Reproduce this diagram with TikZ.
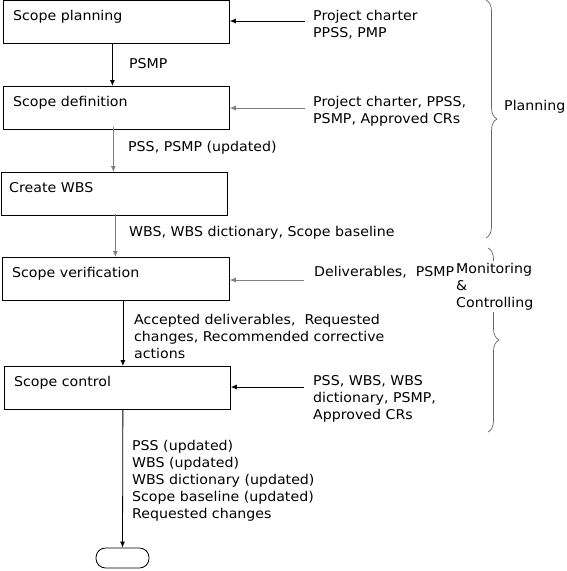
\documentclass[tikz,border=0pt]{standalone}
\usepackage{fontspec}
\setmainfont{DejaVu Sans}[FakeStretch=1.05]
\usetikzlibrary{arrows.meta,decorations.pathreplacing}

\tikzset{
	stepbox/.style={draw, line width=0.8pt, minimum width=226pt, minimum height=43pt, inner sep=0pt, anchor=north west},
	boxlabel/.style={anchor=base west, xshift=10pt, yshift=-20pt, inner sep=0pt},
	txt/.style={anchor=base west, inner sep=0pt, align=left},
	flow/.style={-{Latex[length=6pt,width=5pt]}, line width=0.8pt},
	grayflow/.style={flow, draw=black!50},
	bracket/.style={draw=black!60, line width=0.7pt, decorate, decoration={brace, amplitude=11pt}}
}

\begin{document}
\begin{tikzpicture}[x=1pt,y=-1pt,font=\fontsize{13.5pt}{17pt}\selectfont]
	\useasboundingbox (0,0) rectangle (566,571);
	
	% steps
	\node [stepbox, label={[boxlabel]north west:Scope planning}] (plan) at (3,0) {};
	\node [stepbox, label={[boxlabel]north west:Scope definition}] (defn) at (3,86) {};
	\node [stepbox, label={[boxlabel,xshift=-2pt]north west:Create WBS}] (wbs) at (1,172) {};
	\node [stepbox, minimum width=227pt, label={[boxlabel]north west:Scope verification}] (verif) at (2,257) {};
	\node [stepbox, label={[boxlabel]north west:Scope control}] (ctrl) at (4,366) {};
	\node [draw, line width=0.8pt, rounded corners=9.5pt, minimum width=53pt, minimum height=20pt, inner sep=0pt] (stop) at (122.5,558) {};
	
	% flow down
	\draw [flow] ([xshift=-4pt]plan.south) -- ([xshift=-4pt]plan.south |- defn.north);
	\draw [grayflow] ([xshift=-3pt,yshift=3pt]defn.south) -- ([xshift=-3pt]defn.south |- wbs.north);
	\draw [grayflow] ([xshift=1pt,yshift=2pt]wbs.south) -- ([xshift=1pt]wbs.south |- verif.north);
	\draw [flow] ([xshift=7pt]verif.south) -- ([xshift=7pt]verif.south |- ctrl.north);
	\draw [flow] ([xshift=5.5pt]ctrl.south) -- (stop.north);
	
	% outputs (base = last line)
	\node [txt] (o1) at (129,68) {PSMP};
	\node [txt] (o2) at (128,151.5) {PSS, PSMP (updated)};
	\node [txt] (o3) at (129,236) {WBS, WBS dictionary, Scope baseline};
	\node [txt] (o4) at (134,358) {Accepted deliverables,\ \ Requested\\changes, Recommended corrective\\actions};
	\node [txt] (o5) at (132,518) {PSS (updated)\\WBS (updated)\\WBS dictionary (updated)\\Scope baseline (updated)\\Requested changes};
	
	% inputs
	\coordinate (inplan) at (305,21);
	\coordinate (indefn) at (305,108);
	\coordinate (inverif) at (304,280);
	\coordinate (inctrl) at (304,387);
	\draw [flow] (inplan) -- (inplan -| plan.east);
	\draw [grayflow] (indefn) -- (indefn -| defn.east);
	\draw [grayflow] (inverif) -- (inverif -| verif.east);
	\draw [flow] (inctrl) -- (inctrl -| ctrl.east);
	
	\node [txt] (i1) at (313,37) {Project charter\\PPSS, PMP};
	\node [txt] (i2) at (313,123) {Project charter, PPSS,\\PSMP, Approved CRs};
	\node [txt] (i3) at (314,276) {Deliverables,\ \ PSMP};
	\node [txt] (i4) at (313,419) {PSS, WBS, WBS\\dictionary, PSMP,\\Approved CRs};
	
	% phases
	\draw [bracket] (486,0) -- (486,238);
	\node [txt] (ph1) at (504,110) {Planning};
	\draw [bracket] (488,248) -- (488,432);
	\node [txt, fill=white, inner sep=2pt] (ph2) at (454,307) {Monitoring\\\&\\Controlling};
	
\end{tikzpicture}
\end{document}
